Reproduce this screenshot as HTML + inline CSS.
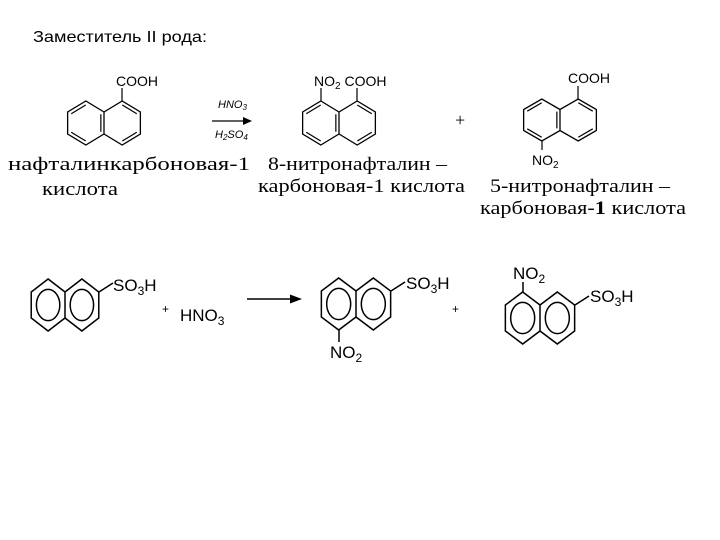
<!DOCTYPE html>
<html><head><meta charset="utf-8"><style>
html,body{margin:0;padding:0;background:#fff;}
svg{display:block;}
.s{font-family:"Liberation Serif",serif;}
.a{font-family:"Liberation Sans",sans-serif;}
</style></head><body>
<svg width="720" height="540" viewBox="0 0 720 540" xmlns="http://www.w3.org/2000/svg">
<defs>
<g id="nk" fill="none" stroke="#000">
<path vector-effect="non-scaling-stroke" stroke-width="1.3" d="M0,-0.5 L-0.866,-1 L-1.732,-0.5 L-1.732,0.5 L-0.866,1 L0,0.5 L0.866,1 L1.732,0.5 L1.732,-0.5 L0.866,-1 Z M0,-0.5 L0,0.5"/>
<path vector-effect="non-scaling-stroke" stroke-width="1.2" d="M-0.87,-0.82 L-1.56,-0.42 M-1.56,0.42 L-0.87,0.82 M-0.15,-0.4 L-0.15,0.4 M0.87,-0.82 L1.56,-0.42 M1.56,0.42 L0.87,0.82"/>
</g>
<g id="nc" fill="none" stroke="#000">
<path vector-effect="non-scaling-stroke" stroke-width="1.5" d="M0,-0.5 L-0.866,-1 L-1.732,-0.5 L-1.732,0.5 L-0.866,1 L0,0.5 L0.866,1 L1.732,0.5 L1.732,-0.5 L0.866,-1 Z M0,-0.5 L0,0.5"/>
<circle vector-effect="non-scaling-stroke" stroke-width="1.5" cx="-0.866" cy="0" r="0.6"/>
<circle vector-effect="non-scaling-stroke" stroke-width="1.5" cx="0.866" cy="0" r="0.6"/>
</g>
</defs>

<text x="33" y="42" class="a" font-size="16" textLength="174" lengthAdjust="spacingAndGlyphs">Заместитель II рода:</text>

<use href="#nk" transform="translate(104,123) scale(21,22)"/>
<line x1="122" y1="101" x2="122" y2="88" stroke="#000" stroke-width="1.2"/>
<text x="116" y="86" class="a" font-size="14">COOH</text>
<text x="8" y="170" class="s" font-size="19" textLength="242" lengthAdjust="spacingAndGlyphs">нафталинкарбоновая-1</text>
<text x="42" y="195" class="s" font-size="19" textLength="76" lengthAdjust="spacingAndGlyphs">кислота</text>

<line x1="212" y1="121" x2="246" y2="121" stroke="#000" stroke-width="1.3"/>
<polygon points="252,121 243,117 243,125" fill="#000"/>
<text x="218" y="108" class="a" font-size="11" font-style="italic">HNO<tspan font-size="8" dy="2">3</tspan></text>
<text x="215" y="138" class="a" font-size="11" font-style="italic">H<tspan font-size="8" dy="2">2</tspan><tspan dy="-2">SO</tspan><tspan font-size="8" dy="2">4</tspan></text>

<use href="#nk" transform="translate(339,123) scale(21,22)"/>
<line x1="321" y1="101" x2="321" y2="88" stroke="#000" stroke-width="1.2"/>
<line x1="357" y1="101" x2="357" y2="88" stroke="#000" stroke-width="1.2"/>
<text x="314" y="86" class="a" font-size="14">NO<tspan font-size="10" dy="3">2</tspan><tspan dy="-3"> COOH</tspan></text>
<text x="268" y="170" class="s" font-size="19" textLength="179" lengthAdjust="spacingAndGlyphs">8-нитронафталин –</text>
<text x="258" y="192" class="s" font-size="19" textLength="207" lengthAdjust="spacingAndGlyphs">карбоновая-1 кислота</text>

<text x="455" y="126" class="s" font-size="18">+</text>

<use href="#nk" transform="translate(560,120) scale(21,21)"/>
<line x1="578" y1="99" x2="578" y2="86" stroke="#000" stroke-width="1.2"/>
<text x="568" y="83" class="a" font-size="14">COOH</text>
<line x1="542" y1="141" x2="542" y2="150" stroke="#000" stroke-width="1.2"/>
<text x="532" y="165" class="a" font-size="14">NO<tspan font-size="10" dy="3">2</tspan></text>
<text x="490" y="192" class="s" font-size="19" textLength="180" lengthAdjust="spacingAndGlyphs">5-нитронафталин –</text>
<text x="480" y="214" class="s" font-size="19" textLength="206" lengthAdjust="spacingAndGlyphs">карбоновая-<tspan font-weight="bold">1</tspan> кислота</text>

<use href="#nc" transform="translate(65,305) scale(19.5,26)"/>
<line x1="99" y1="292" x2="113" y2="283" stroke="#000" stroke-width="1.5"/>
<text x="113" y="291" class="a" font-size="17">SO<tspan font-size="12" dy="4">3</tspan><tspan dy="-4">H</tspan></text>
<text x="162" y="313" class="a" font-size="12">+</text>
<text x="180" y="321" class="a" font-size="17">HNO<tspan font-size="12" dy="4">3</tspan></text>

<line x1="247" y1="299" x2="292" y2="299" stroke="#000" stroke-width="1.4"/>
<polygon points="302,299 290,294.5 290,303.5" fill="#000"/>

<use href="#nc" transform="translate(356,304) scale(20,26)"/>
<line x1="391" y1="291" x2="405" y2="282" stroke="#000" stroke-width="1.5"/>
<text x="406" y="289" class="a" font-size="17">SO<tspan font-size="12" dy="4">3</tspan><tspan dy="-4">H</tspan></text>
<line x1="339" y1="330" x2="339" y2="342" stroke="#000" stroke-width="1.5"/>
<text x="330" y="358" class="a" font-size="17">NO<tspan font-size="12" dy="4">2</tspan></text>

<text x="452" y="313" class="a" font-size="12">+</text>

<use href="#nc" transform="translate(540,318) scale(20,26)"/>
<line x1="523" y1="292" x2="523" y2="282" stroke="#000" stroke-width="1.5"/>
<text x="513" y="279" class="a" font-size="17">NO<tspan font-size="12" dy="4">2</tspan></text>
<line x1="575" y1="305" x2="589" y2="296" stroke="#000" stroke-width="1.5"/>
<text x="590" y="302" class="a" font-size="17">SO<tspan font-size="12" dy="4">3</tspan><tspan dy="-4">H</tspan></text>
</svg>
</body></html>
